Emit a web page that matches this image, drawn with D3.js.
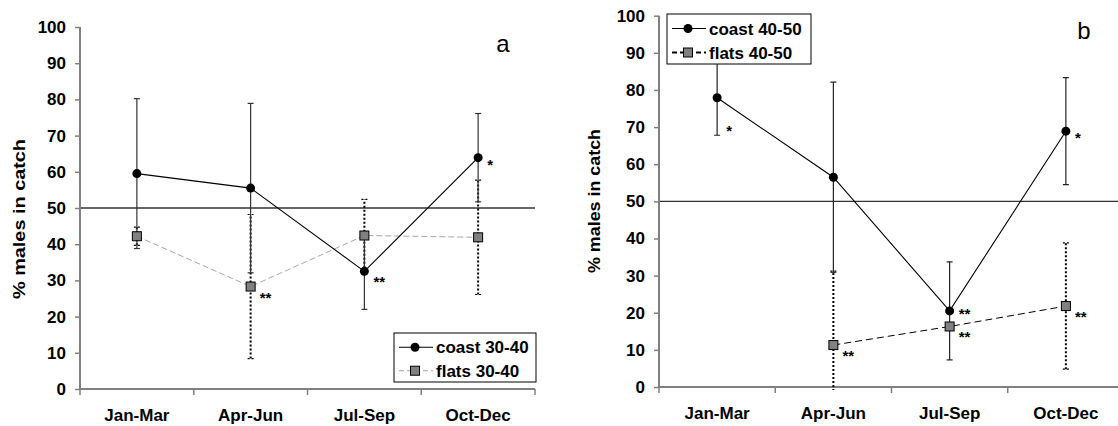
<!DOCTYPE html>
<html>
<head>
<meta charset="utf-8">
<script src="https://cdn.jsdelivr.net/npm/d3@7"></script>
<style>
  html, body { margin: 0; padding: 0; background: #fff; }
  svg { display: block; }
  text { font-family: "Liberation Sans", Arial, sans-serif; }
</style>
</head>
<body>
<svg id="chart" width="1118" height="426"></svg>
<script>
// Seasonal share of males in the catch, by length class and habitat.
const quarters = ["Jan-Mar", "Apr-Jun", "Jul-Sep", "Oct-Dec"];
const yTicks = [0, 10, 20, 30, 40, 50, 60, 70, 80, 90, 100];
const referenceLevel = 50;

// Panel a: 30-40 length class
const coast3040 = [59.5, 55.5, 32.5, 63.9];
const coast3040Err = [20.7, 23.4, 10.5, 12.2];
const coast3040Sig = ["", "", "**", "*"];
const flats3040 = [42.2, 28.3, 42.4, 41.9];
const flats3040Err = [2.5, 19.9, 10.0, 15.8];
const flats3040Sig = ["", "**", "", ""];

// Panel b: 40-50 length class
const coast4050 = [77.9, 56.5, 20.5, 68.9];
const coast4050Err = [10.1, 25.6, 13.2, 14.4];
const coast4050Sig = ["*", "", "**", "*"];
const flats4050 = [null, 11.3, 16.3, 21.8];
const flats4050Err = [null, 19.9, null, 17.0];
const flats4050Sig = ["", "**", "**", "**"];

const svg = d3.select("#chart");
const FONT = "Liberation Sans, Arial, sans-serif";

function zip(vals, errs, sig) {
  return quarters.map((q, i) => ({ q, v: vals[i], e: errs[i], s: sig[i], i }))
    .filter(d => d.v != null);
}

const panels = [
  {
    id: "a", x0: 80, x1: 535, yTop: 27, yBot: 389,
    titleX: 19, titleY: 219, titleLen: 160,
    letterX: 503, letterY: 52,
    coast: zip(coast3040, coast3040Err, coast3040Sig),
    flats: zip(flats3040, flats3040Err, flats3040Sig),
    coastName: "coast 30-40", flatsName: "flats 30-40",
    flatsLine: "#a6a6a6", flatsDash: "6,3", flatsWidth: 1,
    legendFlatsWidth: 1, legendFlatsDash: "5,3",
    coastBarColor: "#333",
    legend: { x: 394, y: 333, w: 142, h: 49 },
    coastStarPlace: {}
  },
  {
    id: "b", x0: 659, x1: 1124, yTop: 15.7, yBot: 387,
    titleX: 594, titleY: 201, titleLen: 144,
    letterX: 1084, letterY: 39,
    coast: zip(coast4050, coast4050Err, coast4050Sig),
    flats: zip(flats4050, flats4050Err, flats4050Sig),
    coastName: "coast 40-50", flatsName: "flats 40-50",
    flatsLine: "#000", flatsDash: "7,4", flatsWidth: 1,
    legendFlatsWidth: 2, legendFlatsDash: "5,3",
    coastBarColor: "#222",
    legend: { x: 667, y: 14, w: 144, h: 50 },
    coastStarPlace: { 0: "below", 2: "right" }
  }
];

panels.forEach(p => {
  const g = svg.append("g");
  const x = d3.scaleBand().domain(quarters).range([p.x0, p.x1]).paddingInner(0).paddingOuter(0);
  const y = d3.scaleLinear().domain([0, 100]).range([p.yBot, p.yTop]);
  const cx = q => x(q) + x.bandwidth() / 2;

  const clipId = "clip-" + p.id;
  svg.append("clipPath").attr("id", clipId)
    .append("rect").attr("x", p.x0).attr("y", p.yTop - 2)
    .attr("width", p.x1 - p.x0).attr("height", p.yBot - p.yTop + 5);

  // reference line at 50 %
  g.append("line")
    .attr("x1", p.x0).attr("x2", p.x1)
    .attr("y1", y(referenceLevel)).attr("y2", y(referenceLevel))
    .attr("stroke", "#333").attr("stroke-width", 1.3);

  // y axis
  const yAxis = d3.axisLeft(y).tickValues(yTicks).tickSize(5).tickPadding(9);
  const ya = g.append("g").attr("transform", `translate(${p.x0},0)`).call(yAxis);
  ya.select(".domain").attr("stroke", "#808080").attr("stroke-width", 2).attr("d", `M0,${p.yTop}V${p.yBot}`);
  ya.selectAll(".tick line").attr("stroke", "#808080").attr("stroke-width", 1.5);
  ya.selectAll(".tick text").attr("font-family", FONT).attr("font-size", 17)
    .attr("font-weight", "bold").attr("fill", "#000");

  // x axis (ticks at category boundaries)
  const xa = g.append("g").attr("transform", `translate(0,${p.yBot})`);
  xa.append("path").attr("d", `M${p.x0},0H${p.x1}`).attr("stroke", "#808080").attr("stroke-width", 2).attr("fill", "none");
  const bounds = quarters.map(q => x(q)).concat([p.x1]);
  xa.selectAll("line.bt").data(bounds).join("line").attr("class", "bt")
    .attr("x1", d => d).attr("x2", d => d).attr("y1", 0).attr("y2", 6)
    .attr("stroke", "#808080").attr("stroke-width", 1.5);
  xa.selectAll("text.ql").data(quarters).join("text").attr("class", "ql")
    .attr("x", d => cx(d)).attr("y", 32).attr("text-anchor", "middle")
    .attr("font-family", FONT).attr("font-size", 17).attr("font-weight", "bold").text(d => d);

  // axis title
  g.append("text")
    .attr("transform", `translate(${p.titleX},${p.titleY}) rotate(-90)`)
    .attr("text-anchor", "middle").attr("dominant-baseline", "central")
    .attr("font-family", FONT).attr("font-size", 17).attr("font-weight", "bold")
    .attr("textLength", p.titleLen).attr("lengthAdjust", "spacingAndGlyphs")
    .text("% males in catch");

  // panel letter
  g.append("text").attr("x", p.letterX).attr("y", p.letterY).attr("text-anchor", "middle")
    .attr("font-family", FONT).attr("font-size", 24).text(p.id);

  const plot = g.append("g").attr("clip-path", `url(#${clipId})`);

  // flats error bars (dotted), underneath the coast bars
  const fb = plot.append("g");
  p.flats.filter(d => d.e != null).forEach(d => {
    const xx = cx(d.q), lo = y(d.v - d.e), hi = y(d.v + d.e);
    fb.append("line").attr("x1", xx).attr("x2", xx).attr("y1", lo).attr("y2", hi)
      .attr("stroke", "#000").attr("stroke-width", 2).attr("stroke-dasharray", "2,2");
    [lo, hi].forEach(yy => fb.append("line").attr("x1", xx - 3).attr("x2", xx + 3)
      .attr("y1", yy).attr("y2", yy).attr("stroke", "#000").attr("stroke-width", 1.2)
      .attr("stroke-dasharray", "2,2"));
  });

  // coast error bars
  const cb = plot.append("g");
  p.coast.forEach(d => {
    const xx = cx(d.q), lo = y(d.v - d.e), hi = y(d.v + d.e);
    cb.append("line").attr("x1", xx).attr("x2", xx).attr("y1", lo).attr("y2", hi)
      .attr("stroke", p.coastBarColor).attr("stroke-width", 1.2);
    [lo, hi].forEach(yy => cb.append("line").attr("x1", xx - 3).attr("x2", xx + 3)
      .attr("y1", yy).attr("y2", yy).attr("stroke", p.coastBarColor).attr("stroke-width", 1.2));
  });

  const line = d3.line().x(d => cx(d.q)).y(d => y(d.v));

  // flats series
  plot.append("path").datum(p.flats).attr("d", line).attr("fill", "none")
    .attr("stroke", p.flatsLine).attr("stroke-width", p.flatsWidth).attr("stroke-dasharray", p.flatsDash);
  // coast series
  plot.append("path").datum(p.coast).attr("d", line).attr("fill", "none")
    .attr("stroke", "#000").attr("stroke-width", 1.1);

  plot.selectAll("rect.fm").data(p.flats).join("rect").attr("class", "fm")
    .attr("x", d => cx(d.q) - 4.5).attr("y", d => y(d.v) - 4.5).attr("width", 9).attr("height", 9)
    .attr("fill", "#808080").attr("stroke", "#000").attr("stroke-width", 1);
  plot.selectAll("circle.cm").data(p.coast).join("circle").attr("class", "cm")
    .attr("cx", d => cx(d.q)).attr("cy", d => y(d.v)).attr("r", 4.5).attr("fill", "#000");

  // significance markers
  const stars = p.coast.map(d => ({ ...d, series: "coast" })).concat(p.flats.map(d => ({ ...d, series: "flats" })))
    .filter(d => d.s);
  g.selectAll("text.sig").data(stars).join("text").attr("class", "sig")
    .attr("x", d => cx(d.q) + 9)
    .attr("y", d => {
      const place = d.series === "coast" ? p.coastStarPlace[d.i] : undefined;
      let off = d.s.length > 1 ? 8 : 4;
      if (place === "below") off = 30;
      if (place === "right") off = 0;
      return y(d.v) + off + 8;
    })
    .attr("font-family", FONT).attr("font-size", 15).attr("font-weight", "bold").text(d => d.s);

  // legend
  const L = p.legend;
  const lg = g.append("g");
  lg.append("rect").attr("x", L.x).attr("y", L.y).attr("width", L.w).attr("height", L.h)
    .attr("fill", "#fff").attr("stroke", "#000").attr("stroke-width", 1);
  const rows = [
    { name: p.coastName, kind: "coast" },
    { name: p.flatsName, kind: "flats" }
  ];
  rows.forEach((r, k) => {
    const ry = L.y + L.h * (k === 0 ? 0.29 : 0.77);
    const lx0 = L.x + 5, lx1 = L.x + 39, mx = L.x + 21;
    if (r.kind === "coast") {
      lg.append("line").attr("x1", lx0).attr("x2", lx1).attr("y1", ry).attr("y2", ry)
        .attr("stroke", "#000").attr("stroke-width", 1.1);
      lg.append("circle").attr("cx", mx).attr("cy", ry).attr("r", 4.5).attr("fill", "#000");
    } else {
      lg.append("line").attr("x1", lx0).attr("x2", lx1).attr("y1", ry).attr("y2", ry)
        .attr("stroke", p.flatsLine).attr("stroke-width", p.legendFlatsWidth)
        .attr("stroke-dasharray", p.legendFlatsDash);
      lg.append("rect").attr("x", mx - 4.5).attr("y", ry - 4.5).attr("width", 9).attr("height", 9)
        .attr("fill", "#808080").attr("stroke", "#000").attr("stroke-width", 1);
    }
    lg.append("text").attr("x", L.x + 42).attr("y", ry + 6)
      .attr("font-family", FONT).attr("font-size", 17).attr("font-weight", "bold").text(r.name);
  });
});
</script>
</body>
</html>
